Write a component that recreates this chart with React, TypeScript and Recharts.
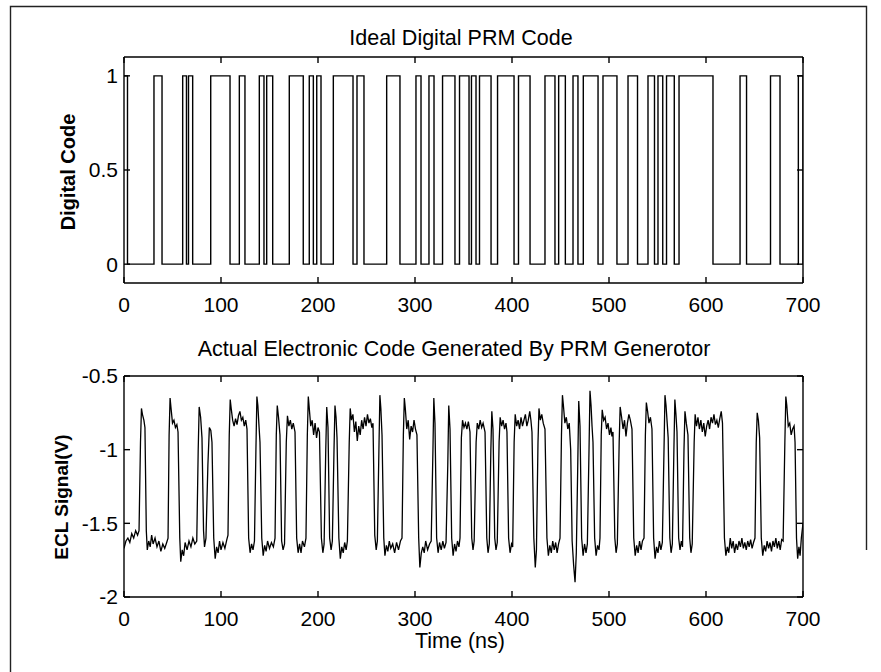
import { LineChart, Line, XAxis, YAxis } from "recharts";

const timeTicks = [0, 100, 200, 300, 400, 500, 600, 700];
const codeTicks = [0, 0.5, 1];
const eclTicks = [-2, -1.5, -1, -0.5];

// ideal PRM code: start / end (ns) of every "1" pulse
const codeRise = [
  0, 30.9, 60.5, 66.5, 89.4, 118.9, 139.5, 147.1, 170.4, 191.0, 198.7, 215.8,
  240.2, 270.8, 301.0, 314.4, 328.4, 345.9, 358.2, 366.5, 385.1, 406.7, 434.0,
  448.1, 462.9, 473.5, 493.8, 519.6, 540.2, 550.5, 559.3, 572.2, 635.1, 666.5, 695.2,
];
const codeFall = [
  3.6, 39.2, 64.4, 70.8, 109.3, 124.7, 144.3, 153.3, 184.8, 195.2, 203.1, 236.1,
  247.4, 284.5, 306.2, 319.6, 341.2, 355.7, 362.9, 378.4, 402.1, 418.6, 444.3,
  455.0, 468.0, 488.7, 508.2, 529.4, 546.9, 555.4, 567.3, 607.2, 641.8, 676.3, 700,
];

// measured ECL output, [time ns, volts]
const eclTrace: [number, number][] = [
  [0, -1.67], [2, -1.62], [4, -1.6], [6, -1.63], [8, -1.57], [10, -1.6], [12, -1.55], [14, -1.58],
  [15.5, -1.55], [17, -0.95], [18, -0.72], [19, -0.76], [20.5, -0.8], [21.6, -0.85], [23, -1.55],
  [24, -1.68], [25.5, -1.62], [27, -1.66], [28.5, -1.58], [30, -1.64], [32, -1.6], [34, -1.66],
  [36, -1.62], [38, -1.69], [40, -1.64], [42, -1.67], [44, -1.63],
  [45.4, -1.6], [46.5, -0.9], [47.5, -0.65], [48.5, -0.72], [50, -0.82], [51.5, -0.8], [53, -0.85],
  [54.5, -0.83], [55.7, -0.88], [57.5, -1.6],
  [58.5, -1.76], [60, -1.68], [61.5, -1.72], [63, -1.63], [65, -1.68], [67, -1.62], [69, -1.66],
  [71, -1.6], [73, -1.64], [75, -1.62],
  [76.5, -1.0], [77.5, -0.71], [79, -0.78], [80.4, -0.92], [82, -1.55], [83, -1.66], [84.5, -1.6],
  [86.5, -1.1], [88, -0.85], [89.5, -0.87], [90.7, -0.95], [92.5, -1.6],
  [94, -1.74], [95.5, -1.66], [97, -1.7], [98.5, -1.62], [100, -1.68], [102, -1.63], [104, -1.67], [106, -1.61],
  [107.2, -1.58], [108.5, -0.9], [109.5, -0.66], [110.5, -0.72], [112, -0.8], [113.5, -0.84], [115, -0.79],
  [116.5, -0.83], [118, -0.77], [119.5, -0.74], [121, -0.8], [122.5, -0.78], [124, -0.84], [125.5, -0.8],
  [126.8, -0.86], [128.5, -1.6],
  [130, -1.7], [131.5, -1.64], [133, -1.68], [134.5, -1.62],
  [136, -1.0], [137, -0.64], [138, -0.7], [139, -0.82], [140.2, -0.95], [142, -1.6],
  [143.5, -1.72], [145, -1.65], [146.5, -1.69], [148, -1.62], [150, -1.67], [152, -1.63], [154, -1.66],
  [155.7, -1.6], [157, -0.9], [158, -0.7], [159.3, -0.78], [160.8, -0.9], [162.5, -1.62],
  [164, -1.68], [165.5, -1.64],
  [167.3, -0.95], [168.5, -0.77], [170, -0.84], [171.5, -0.8], [173, -0.86], [174.5, -0.82], [176.3, -0.88], [178, -1.6],
  [179.5, -1.7], [181, -1.64], [182.5, -1.7], [184, -1.62], [186, -1.66],
  [187.6, -1.6], [189, -0.9], [190, -0.64], [191, -0.72], [192.5, -0.84], [194, -0.8], [195.5, -0.9],
  [197, -0.82], [198.5, -0.92], [200, -0.85], [201.5, -0.88], [203.5, -1.6],
  [205, -1.7], [206.3, -1.64],
  [208, -1.0], [209, -0.71], [210.3, -0.85], [212, -1.6], [213.5, -1.68], [214.8, -1.62],
  [216.5, -1.0], [217.5, -0.7], [218.6, -0.78], [219.6, -0.92], [221.5, -1.6],
  [223, -1.74], [224.5, -1.66], [226, -1.7], [227.5, -1.63], [229, -1.68], [230.3, -1.62],
  [232.2, -0.95], [233.2, -0.72], [234.5, -0.8], [236, -0.76], [237.5, -0.88], [239, -0.81], [240.5, -0.94],
  [242, -0.84], [243.5, -0.9], [245, -0.8], [246.5, -0.86], [248, -0.78], [249.5, -0.84], [251, -0.76],
  [252.5, -0.82], [254, -0.79], [255.5, -0.85], [256.7, -0.82], [258.5, -1.58],
  [260, -1.68], [261.2, -1.62],
  [262.8, -1.0], [263.8, -0.63], [264.8, -0.72], [266, -0.9], [267.8, -1.6],
  [269, -1.72], [270.5, -1.65], [272, -1.69], [273.5, -1.62], [275, -1.67], [277, -1.64], [279, -1.7],
  [281, -1.63], [283, -1.68], [285, -1.62],
  [286.6, -1.6], [288, -0.9], [289, -0.65], [290, -0.72], [291.5, -0.86], [293, -0.8], [294.5, -0.93],
  [296, -0.84], [297.5, -0.88], [299, -0.8], [300.5, -0.86], [302, -0.9], [303.8, -1.6],
  [305, -1.8], [306.5, -1.7], [308, -1.66], [309.5, -1.7], [311, -1.62], [313, -1.68], [315, -1.64], [316.7, -1.62],
  [318.5, -1.0], [319.4, -0.65], [320.6, -0.82], [322.3, -1.6],
  [323.8, -1.7], [325.3, -1.63], [327, -1.68], [328.7, -1.62], [330.3, -1.67], [332, -1.63],
  [333.8, -1.1], [334.8, -0.7], [336.1, -0.86], [337.8, -1.6],
  [339.3, -1.72], [340.8, -1.64], [342.3, -1.69], [343.8, -1.62], [345.3, -1.66],
  [346.4, -1.6], [347.8, -0.92], [349, -0.8], [350.5, -0.85], [352, -0.82], [353.5, -0.86], [355, -0.81],
  [356.7, -0.88], [358.5, -1.6],
  [359.8, -1.68], [361, -1.62],
  [363, -0.95], [364.2, -0.82], [365.7, -0.86], [367.2, -0.8], [368.7, -0.85], [370.2, -0.82], [372.2, -0.88], [374, -1.6],
  [375.3, -1.7], [376.6, -1.64],
  [378.2, -1.0], [379.2, -0.74], [380.4, -0.86], [382.2, -1.6],
  [383.5, -1.68], [384.8, -1.63],
  [386.7, -0.95], [387.8, -0.78], [389.3, -0.84], [390.8, -0.8], [392.3, -0.86], [393.8, -0.82], [394.8, -0.88], [396.5, -1.6],
  [398, -1.7], [399.5, -1.64], [400.7, -1.66],
  [402.2, -0.95], [403.3, -0.76], [404.8, -0.84], [406.3, -0.8], [407.8, -0.86], [409.3, -0.78], [410.8, -0.84],
  [412.3, -0.8], [413.8, -0.76], [415.3, -0.84], [416.8, -0.8], [418.3, -0.74], [419.5, -0.8], [420.6, -0.88], [422.5, -1.6],
  [424, -1.8], [425.2, -1.68],
  [426.8, -0.95], [427.8, -0.72], [429.2, -0.8], [430.7, -0.76], [432.2, -0.82], [434, -0.86], [436, -1.6],
  [437.5, -1.72], [439, -1.65], [440.5, -1.7], [442, -1.62], [443.5, -1.68], [445, -1.63], [446.5, -1.7], [448, -1.64],
  [449.5, -1.6], [451, -0.9], [452, -0.63], [453, -0.7], [454.5, -0.82], [456, -0.78], [457.5, -0.86], [459, -0.82],
  [460.5, -1.0], [462, -1.62],
  [463.5, -1.78], [465, -1.9], [466.3, -1.7],
  [467.8, -1.1], [468.8, -0.67], [470.1, -0.84], [471.8, -1.6],
  [473.3, -1.72], [474.8, -1.64], [476.3, -1.7], [477.7, -1.64],
  [479.4, -1.0], [480.4, -0.6], [481.5, -0.7], [482.5, -0.84], [483.5, -0.95], [485.2, -1.6],
  [486.7, -1.72], [488.2, -1.65], [489.7, -1.68],
  [490.7, -1.6], [492, -0.9], [493, -0.73], [494.5, -0.8], [496, -0.78], [497.5, -0.86], [499, -0.82],
  [500.5, -0.9], [502, -0.85], [503, -0.91], [504.1, -0.88], [506, -1.6],
  [507.3, -1.7], [508.6, -1.64],
  [510.5, -0.95], [511.5, -0.71], [513, -0.78], [514.5, -0.86], [516, -0.8], [517.5, -0.91], [519, -0.82],
  [520.5, -0.76], [522, -0.8], [523.7, -0.86], [525.5, -1.6],
  [527, -1.72], [528.5, -1.65], [530, -1.7], [531.5, -1.62], [533, -1.68], [534.5, -1.62],
  [536.1, -1.6], [537.5, -0.9], [538.5, -0.68], [539.8, -0.74], [541.2, -0.82], [542.7, -0.78], [544.3, -0.86], [546, -1.6],
  [547.5, -1.74], [549, -1.66], [550.5, -1.7], [552, -1.62], [553.5, -1.68], [555, -1.63],
  [556.7, -1.0], [557.7, -0.63], [558.8, -0.7], [560, -0.82], [561, -0.92], [562.7, -1.6],
  [564, -1.7], [565.3, -1.64],
  [566.9, -1.0], [567.9, -0.66], [569, -0.76], [570.1, -0.88], [571.8, -1.6],
  [573.2, -1.68], [574.6, -1.62], [575.8, -1.66],
  [577.3, -1.0], [578.3, -0.74], [579.7, -0.82], [581.4, -0.9], [583.2, -1.6],
  [584.5, -1.7], [585.8, -1.64],
  [587.8, -0.95], [588.8, -0.76], [590.2, -0.84], [591.7, -0.78], [593.2, -0.86], [594.7, -0.8], [596.2, -0.88],
  [597.7, -0.82], [599.2, -0.91], [600.7, -0.84], [602.2, -0.8], [603.7, -0.86], [605.2, -0.78], [606.7, -0.82],
  [608.2, -0.76], [609.7, -0.83], [611.2, -0.8], [612.7, -0.85], [614.2, -0.79], [615.7, -0.74], [617, -0.82], [619, -1.6],
  [620.5, -1.72], [622, -1.66], [623.5, -1.7], [625, -1.6], [626.5, -1.67], [628, -1.62], [629.5, -1.7],
  [631, -1.64], [632.5, -1.68], [634, -1.62], [635.5, -1.66], [637, -1.6], [638.5, -1.67], [640, -1.63],
  [641.5, -1.68], [643, -1.62], [644.5, -1.66], [646, -1.61], [647.5, -1.67], [649, -1.63],
  [650.5, -1.6], [651.8, -0.95], [652.8, -0.75], [654, -0.8], [655.3, -0.92], [657, -1.6],
  [658.5, -1.72], [660, -1.65], [661.5, -1.69], [663, -1.62], [664.5, -1.67], [666, -1.63], [667.5, -1.69],
  [669, -1.62], [670.5, -1.66], [672, -1.6], [673.5, -1.67], [675, -1.62], [676.5, -1.68], [678, -1.61], [679.5, -1.62],
  [681.3, -0.95], [682.3, -0.64], [683.3, -0.7], [684.8, -0.84], [686.3, -0.82], [687.8, -0.9], [689.3, -0.86],
  [690.8, -0.84], [691.8, -0.95], [693.3, -1.6],
  [694.5, -1.74], [695.8, -1.66], [697, -1.72], [698.3, -1.6], [700, -1.5],
];

const font = '"Liberation Sans", Arial, Helvetica, sans-serif';
const tickStyle = { fill: "#000", fontSize: 21, fontFamily: font };
const axisStroke = { stroke: "#000", strokeWidth: 1.4 };
const blank = () => "";

const codeData: { t: number; code: number }[] = [];
codeRise.forEach((r, i) => {
  codeData.push({ t: r, code: 1 });
  codeData.push({ t: codeFall[i], code: 0 });
});

const eclData = eclTrace.map(([t, v]) => ({ t, v }));

// MATLAB-style box: inward ticks on all four sides
function boxAxes(yDomain: [number, number], yTicks: number[]) {
  return [
    <XAxis
      key="xb"
      dataKey="t"
      type="number"
      domain={[0, 700]}
      ticks={timeTicks}
      allowDataOverflow
      height={30}
      tickSize={-6}
      tickMargin={20}
      tick={tickStyle}
      axisLine={axisStroke}
      tickLine={axisStroke}
    />,
    <XAxis
      key="xt"
      xAxisId="top"
      dataKey="t"
      orientation="top"
      type="number"
      domain={[0, 700]}
      ticks={timeTicks}
      allowDataOverflow
      height={1}
      tickSize={-6}
      tickFormatter={blank}
      axisLine={axisStroke}
      tickLine={axisStroke}
    />,
    <YAxis
      key="yl"
      type="number"
      domain={yDomain}
      ticks={yTicks}
      allowDataOverflow
      width={60}
      tickSize={-6}
      tickMargin={12}
      tick={tickStyle}
      axisLine={axisStroke}
      tickLine={axisStroke}
    />,
    <YAxis
      key="yr"
      yAxisId="r"
      orientation="right"
      type="number"
      domain={yDomain}
      ticks={yTicks}
      allowDataOverflow
      width={1}
      tickSize={-6}
      tickFormatter={blank}
      axisLine={axisStroke}
      tickLine={axisStroke}
    />,
  ];
}

export default function App() {
  return (
    <div style={{ position: "absolute", left: 0, top: 0, width: 881, height: 672, background: "#fff" }}>
      <div style={{ position: "absolute", left: 0, top: 0 }}>
        <LineChart width={881} height={330} data={codeData} margin={{ top: 56, right: 77, bottom: 17, left: 64 }}>
          {boxAxes([-0.1, 1.1], codeTicks)}
          <Line
            xAxisId="top"
            yAxisId="r"
            dataKey="code"
            type="stepAfter"
            stroke="none"
            dot={false}
            activeDot={false}
            isAnimationActive={false}
          />
          <Line
            dataKey="code"
            type="stepAfter"
            stroke="#000"
            strokeWidth={1.4}
            dot={false}
            isAnimationActive={false}
          />
        </LineChart>
      </div>
      <div style={{ position: "absolute", left: 0, top: 330 }}>
        <LineChart width={881} height={342} data={eclData} margin={{ top: 45, right: 77, bottom: 45, left: 64 }}>
          {boxAxes([-2, -0.5], eclTicks)}
          <Line
            xAxisId="top"
            yAxisId="r"
            dataKey="v"
            type="linear"
            stroke="none"
            dot={false}
            activeDot={false}
            isAnimationActive={false}
          />
          <Line
            dataKey="v"
            type="linear"
            stroke="#000"
            strokeWidth={1.3}
            dot={false}
            isAnimationActive={false}
          />
        </LineChart>
      </div>
      <svg
        width={881}
        height={672}
        style={{ position: "absolute", left: 0, top: 0, pointerEvents: "none" }}
        fontFamily={font}
      >
        <path d="M10.5 672 V6.5 H866.5 V550" fill="none" stroke="#222" strokeWidth={1.4} />
        <text x={461} y={45} textAnchor="middle" fontSize={21.5} fill="#000">
          Ideal Digital PRM Code
        </text>
        <text x={454} y={356} textAnchor="middle" fontSize={21.5} fill="#000">
          Actual Electronic Code Generated By PRM Generotor
        </text>
        <text x={460} y={648} textAnchor="middle" fontSize={21.5} fill="#000">
          Time (ns)
        </text>
        <text
          x={75}
          y={172}
          textAnchor="middle"
          fontSize={20}
          fontWeight="bold"
          fill="#000"
          transform="rotate(-90 75 172)"
        >
          Digital Code
        </text>
        <text
          x={68}
          y={497}
          textAnchor="middle"
          fontSize={19}
          fontWeight="bold"
          fill="#000"
          transform="rotate(-90 68 497)"
        >
          ECL Signal(V)
        </text>
      </svg>
    </div>
  );
}
